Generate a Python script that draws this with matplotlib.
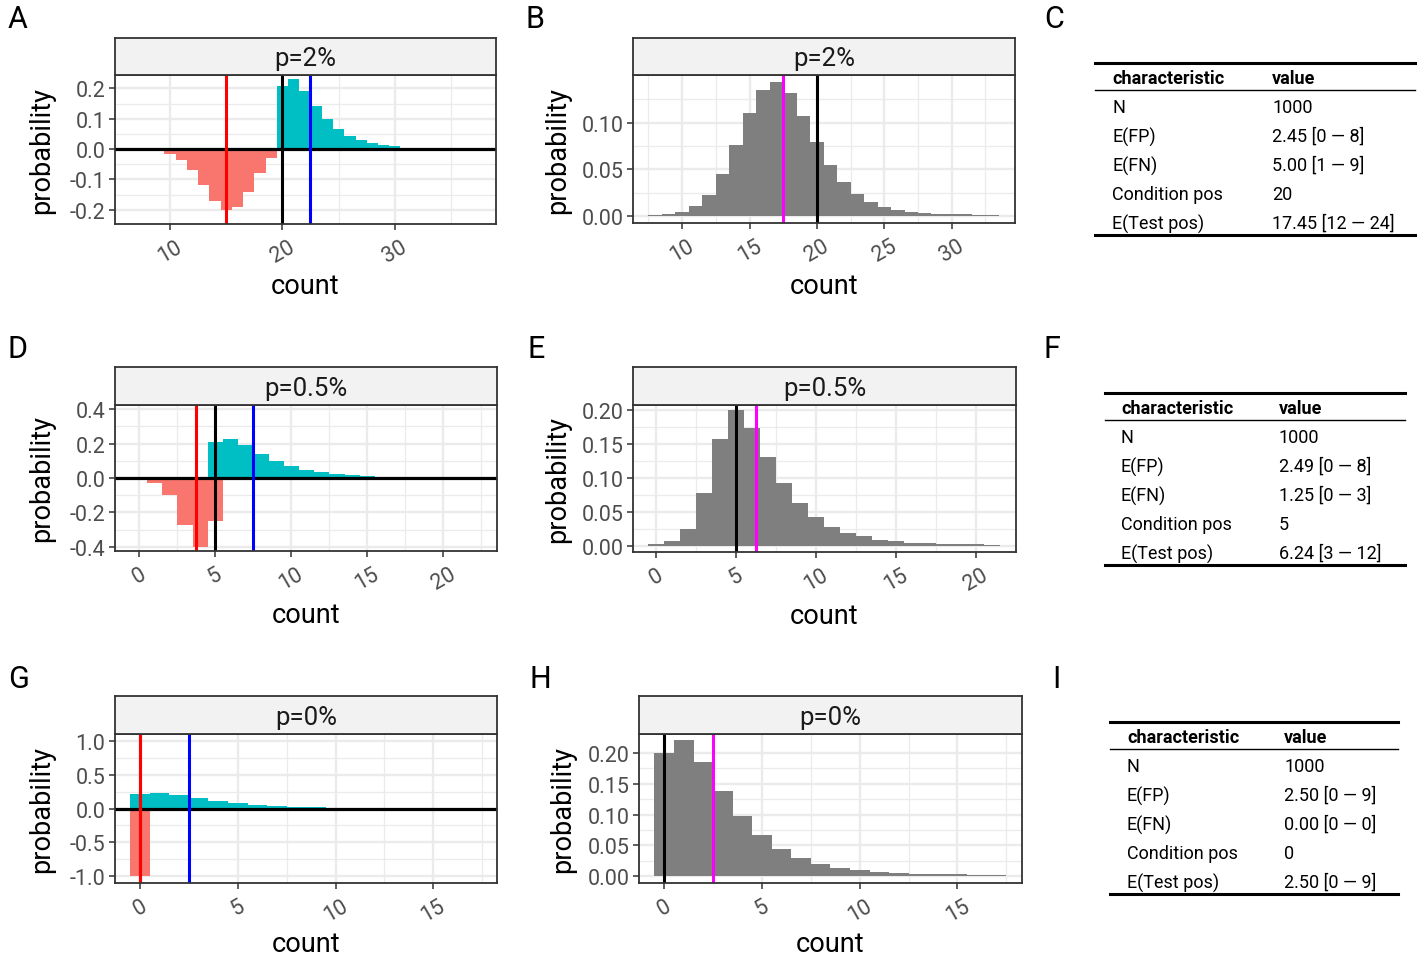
import numpy as np
import matplotlib
matplotlib.use("Agg")
import matplotlib.pyplot as plt
from matplotlib.lines import Line2D

plt.rcParams['font.family'] = ['Roboto', 'DejaVu Sans']

# ---- data ----
# p = 2%
cond_a = 20
fp_a = [0.209, 0.23, 0.191, 0.141, 0.10, 0.067, 0.044, 0.03, 0.02, 0.013,
        0.009, 0.005, 0.003, 0.002, 0.0015, 0.001, 0.001, 0.0008]
fn_a = [0.007, 0.031, 0.08, 0.142, 0.192, 0.202, 0.172, 0.119, 0.069, 0.036,
        0.017, 0.005, 0.003, 0.001]
efp_a, efn_a, etest_a = 2.45, 5.00, 17.45
test_x_b = list(range(8, 34))
test_b = [0.0015, 0.002, 0.0046, 0.011, 0.023, 0.045, 0.076, 0.110, 0.135, 0.144,
          0.132, 0.107, 0.079, 0.055, 0.036, 0.024, 0.015, 0.010, 0.0064, 0.0042,
          0.003, 0.0025, 0.002, 0.0018, 0.0015, 0.0012]

# p = 0.5%
cond_d = 5
fp_d = [0.208, 0.227, 0.19, 0.142, 0.10, 0.07, 0.049, 0.033, 0.023, 0.017,
        0.012, 0.008, 0.005, 0.003]
fn_d = [0.252, 0.40, 0.276, 0.10, 0.027]
efp_d, efn_d, etest_d = 2.49, 1.25, 6.24
test_x_e = list(range(0, 22))
test_e = [0.003, 0.006, 0.024, 0.077, 0.157, 0.199, 0.173, 0.131, 0.092, 0.063,
          0.042, 0.028, 0.018, 0.0136, 0.0088, 0.0063, 0.0044, 0.0034, 0.003,
          0.0025, 0.002, 0.0015]

# p = 0%
cond_g = 0
fp_g = [0.212, 0.235, 0.195, 0.148, 0.108, 0.077, 0.052, 0.036, 0.025, 0.016,
        0.011, 0.008, 0.006, 0.004, 0.003, 0.0025, 0.002, 0.002]
fn_g = [1.0]
efp_g, efn_g, etest_g = 2.50, 0.00, 2.50
test_x_h = list(range(0, 18))
test_h = [0.2, 0.222, 0.186, 0.139, 0.097, 0.066, 0.044, 0.029, 0.0195, 0.013,
          0.0092, 0.007, 0.005, 0.004, 0.003, 0.0027, 0.002, 0.002]

strip_labels = ['p=2%', 'p=0.5%', 'p=0%']

tbl_chars = ['N', 'E(FP)', 'E(FN)', 'Condition pos', 'E(Test pos)']
tbl_c = ['1000', '2.45 [0 \u2014 8]', '5.00 [1 \u2014 9]', '20', '17.45 [12 \u2014 24]']
tbl_f = ['1000', '2.49 [0 \u2014 8]', '1.25 [0 \u2014 3]', '5', '6.24 [3 \u2014 12]']
tbl_i = ['1000', '2.50 [0 \u2014 9]', '0.00 [0 \u2014 0]', '0', '2.50 [0 \u2014 9]']

# ---- figure ----
W, H = 1419, 962
fig = plt.figure(figsize=(W / 100, H / 100), dpi=100)

RED, CYAN, GREY = '#F8766D', '#00BFC4', '#7F7F7F'
GRID = '#EBEBEB'


def fx(px):
    return px / W


def fy(py):
    return 1 - py / H


def make_panel(x0, x1, y0, y1, strip_top, label, xlim, ylim, xmaj, xmin, ymaj, ymin,
               ylabels, xlab_y, ylab_x):
    ax = fig.add_axes([fx(x0), fy(y1), (x1 - x0) / W, (y1 - y0) / H])
    ax.set_xlim(*xlim)
    ax.set_ylim(*ylim)
    ax.set_xticks(xmaj)
    ax.set_xticks(xmin, minor=True)
    ax.set_yticks(ymaj)
    ax.set_yticks(ymin, minor=True)
    ax.set_yticklabels(ylabels)
    ax.grid(True, which='major', color=GRID, lw=1.7)
    ax.grid(True, which='minor', color=GRID, lw=0.9)
    ax.set_axisbelow(True)
    for s in ax.spines.values():
        s.set_color('#333333')
        s.set_linewidth(1.3)
    ax.tick_params(which='major', length=4, width=1.1, color='#333333',
                   labelsize=15.5, labelcolor='#4D4D4D', pad=3)
    ax.tick_params(axis='x', which='major', pad=5)
    ax.tick_params(which='minor', length=0)
    for t in ax.get_xticklabels():
        t.set_rotation(30)
    ax.set_xlabel('count', fontsize=19.5)
    ax.xaxis.set_label_coords(0.5, (y1 - xlab_y) / (y1 - y0))
    ax.xaxis.label.set_va('center')
    ax.set_ylabel('probability', fontsize=19.5)
    ax.yaxis.set_label_coords((ylab_x - x0) / (x1 - x0), 0.5)
    ax.yaxis.label.set_va('center')
    # facet strip
    sax = fig.add_axes([fx(x0), fy(y0), (x1 - x0) / W, (y0 - strip_top) / H])
    sax.set_facecolor('#F2F2F2')
    sax.set_xticks([])
    sax.set_yticks([])
    for s in sax.spines.values():
        s.set_color('#333333')
        s.set_linewidth(1.3)
    sax.text(0.5, 0.45, label, ha='center', va='center', fontsize=18.5,
             color='#1A1A1A', transform=sax.transAxes)
    return ax


def split_panel(ax, cond, fp, fn, efp, efn):
    ax.bar(cond + np.arange(len(fp)), fp, width=1.0, color=CYAN, lw=0)
    ax.bar(cond - np.arange(len(fn)), -np.array(fn), width=1.0, color=RED, lw=0)
    ax.axhline(0, color='black', lw=2.3)
    ax.axvline(cond, color='black', lw=2.2)
    ax.axvline(cond - efn, color='#FF0000', lw=2.2)
    ax.axvline(cond + efp, color='#0000FF', lw=2.2)


def test_panel(ax, xs, ps, cond, etest):
    ax.bar(xs, ps, width=1.0, color=GREY, lw=0)
    ax.axvline(etest, color='#FF00FF', lw=2.2)
    ax.axvline(cond, color='black', lw=2.2)


# row 1
ax = make_panel(115, 496, 76, 225, 39, strip_labels[0], (5.1, 39.0), (-0.247, 0.244),
                [10, 20, 30], [15, 25, 35], [-0.2, -0.1, 0, 0.1, 0.2],
                [-0.15, -0.05, 0.05, 0.15], ['-0.2', '-0.1', '0.0', '0.1', '0.2'], 286, 42)
split_panel(ax, cond_a, fp_a, fn_a, efp_a, efn_a)

ax = make_panel(633, 1015, 76, 224, 39, strip_labels[0], (6.35, 34.7), (-0.0074, 0.151),
                [10, 15, 20, 25, 30], [7.5, 12.5, 17.5, 22.5, 27.5, 32.5], [0, 0.05, 0.10],
                [0.025, 0.075, 0.125], ['0.00', '0.05', '0.10'], 286, 558)
test_panel(ax, test_x_b, test_b, cond_a, etest_a)

# row 2
ax = make_panel(115, 497, 406, 552, 368, strip_labels[1], (-1.6, 23.53), (-0.425, 0.425),
                [0, 5, 10, 15, 20], [2.5, 7.5, 12.5, 17.5, 22.5], [-0.4, -0.2, 0, 0.2, 0.4],
                [-0.3, -0.1, 0.1, 0.3], ['-0.4', '-0.2', '0.0', '0.2', '0.4'], 616, 42)
split_panel(ax, cond_d, fp_d, fn_d, efp_d, efn_d)

ax = make_panel(633, 1016, 406, 553, 368, strip_labels[1], (-1.44, 22.5), (-0.0095, 0.207),
                [0, 5, 10, 15, 20], [2.5, 7.5, 12.5, 17.5, 22.5], [0, 0.05, 0.10, 0.15, 0.20],
                [0.025, 0.075, 0.125, 0.175], ['0.00', '0.05', '0.10', '0.15', '0.20'], 616, 558)
test_panel(ax, test_x_e, test_e, cond_d, etest_d)

# row 3
ax = make_panel(115, 497, 735, 884, 697, strip_labels[2], (-1.28, 18.26), (-1.1, 1.1),
                [0, 5, 10, 15], [2.5, 7.5, 12.5, 17.5], [-1, -0.5, 0, 0.5, 1.0],
                [-0.75, -0.25, 0.25, 0.75], ['-1.0', '-0.5', '0.0', '0.5', '1.0'], 945, 42)
split_panel(ax, cond_g, fp_g, fn_g, efp_g, efn_g)

ax = make_panel(639, 1022, 735, 884, 697, strip_labels[2], (-1.29, 18.3), (-0.0114, 0.231),
                [0, 5, 10, 15], [2.5, 7.5, 12.5, 17.5], [0, 0.05, 0.10, 0.15, 0.20],
                [0.025, 0.075, 0.125, 0.175], ['0.00', '0.05', '0.10', '0.15', '0.20'], 945, 563)
test_panel(ax, test_x_h, test_h, cond_g, etest_g)


# ---- tables ----
def draw_table(x0, x1, ytop, cx1, cx2, values):
    def hline(y, lw):
        fig.add_artist(Line2D([fx(x0), fx(x1)], [fy(y), fy(y)], color='black', lw=lw))
    hline(ytop, 2.2)
    fig.text(fx(cx1), fy(ytop + 15), 'characteristic', fontsize=13, fontweight='bold',
             va='center', ha='left')
    fig.text(fx(cx2), fy(ytop + 15), 'value', fontsize=13, fontweight='bold',
             va='center', ha='left')
    hline(ytop + 27, 1.0)
    for i, (c, v) in enumerate(zip(tbl_chars, values)):
        y = ytop + 44 + 29 * i
        fig.text(fx(cx1), fy(y), c, fontsize=13, va='center', ha='left')
        fig.text(fx(cx2), fy(y), v, fontsize=13, va='center', ha='left')
    hline(ytop + 172, 2.2)


draw_table(1095, 1415, 64, 1112, 1272, tbl_c)
draw_table(1105, 1405, 394, 1121, 1279, tbl_f)
draw_table(1110, 1398, 723, 1127, 1284, tbl_i)

# panel letters
for letter, x, y in [('A', 8, 20), ('B', 526, 20), ('C', 1044, 20),
                     ('D', 8, 350), ('E', 528, 350), ('F', 1044, 350),
                     ('G', 8, 680), ('H', 530, 680), ('I', 1052, 680)]:
    fig.text(fx(x), fy(y), letter, fontsize=22, ha='left', va='center')

fig.savefig('out.png', dpi=100)
